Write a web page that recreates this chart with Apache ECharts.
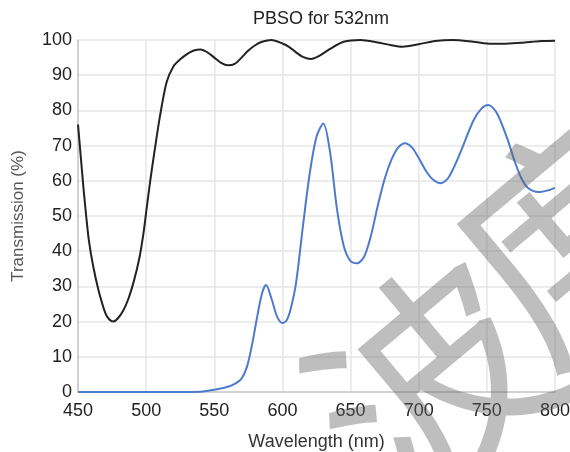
<!DOCTYPE html>
<html>
<head>
<meta charset="UTF-8">
<title>PBSO for 532nm</title>
<script src="https://cdn.jsdelivr.net/npm/echarts@6/dist/echarts.min.js"></script>
<style>
  html, body { margin: 0; padding: 0; background: #fff; }
  #chart { width: 570px; height: 452px; }
</style>
</head>
<body>
<div id="chart"></div>
<script>
// black curve
var blackX = [450, 452, 454, 456, 458, 461, 465, 470, 473, 476, 479, 483, 487, 491, 495, 498, 500, 503, 506, 510, 515, 520, 525, 530, 535, 540, 545, 550, 555, 560, 565, 570, 575, 580, 585, 592, 600, 605, 610, 615, 621, 627, 635, 645, 657, 670, 680, 688, 700, 712, 725, 740, 750, 762, 775, 790, 800];
var blackY = [76, 67, 58, 50, 43, 36, 29, 22.5, 20.6, 20, 20.8, 23, 26.5, 31.5, 38, 45, 51, 60, 68, 78, 88, 92.5, 94.5, 96, 97, 97.3, 96.5, 95, 93.5, 92.8, 93.2, 95, 97, 98.5, 99.5, 100, 99, 98, 96.5, 95.2, 94.6, 95.5, 97.5, 99.5, 100, 99.3, 98.5, 98.1, 98.8, 99.7, 100, 99.5, 99, 98.9, 99.2, 99.7, 99.8];

// blue curve
var blueX = [450, 500, 540, 552, 560, 565, 570, 574, 578, 581, 585, 588, 592, 596, 600, 603, 606, 610, 615, 620, 625, 630, 635, 640, 645, 650, 655, 660, 665, 670, 675, 680, 685, 690, 695, 700, 705, 710, 716, 722, 730, 740, 746, 751, 757, 765, 770, 775, 780, 788, 795, 800];
var blueY = [0, 0, 0.1, 0.8, 1.5, 2.3, 3.8, 7.2, 14, 20.4, 28, 30.4, 26.5, 21.5, 19.6, 20.3, 23.5, 31, 47, 62, 72.5, 76.3, 68, 52, 41.5, 37.2, 36.6, 38.5, 44.5, 53, 60.5, 66, 69.5, 70.7, 69.5, 66.5, 63, 60.5, 59.3, 61, 67.5, 77, 80.5, 81.5, 79.5, 72, 66, 61, 58, 56.8, 57.3, 58];

var xTicks = [450, 500, 550, 600, 650, 700, 750, 800];
var yTicks = [0, 10, 20, 30, 40, 50, 60, 70, 80, 90, 100];

function pairs(xs, ys) {
  var out = [];
  for (var i = 0; i < xs.length; i++) out.push([xs[i], ys[i]]);
  return out;
}

var font = '"Liberation Sans", Arial, sans-serif';
var wmStyle = function (ch) {
  return {
    text: ch, font: '230px "Noto Sans CJK SC"',
    fill: 'rgba(100,100,100,0.42)', textAlign: 'center', textVerticalAlign: 'middle'
  };
};

var myChart = echarts.init(document.getElementById('chart'));
myChart.setOption({
  animation: false,
  title: {
    text: 'PBSO for 532nm',
    left: 316, top: 5, textAlign: 'center',
    textStyle: { fontFamily: font, fontSize: 18, fontWeight: 'normal', color: '#222' }
  },
  grid: { left: 78, right: 15, top: 40, bottom: 60, outerBoundsMode: 'none', containLabel: false },
  xAxis: {
    type: 'value', min: 450, max: 800, interval: 50,
    name: 'Wavelength (nm)', nameLocation: 'middle', nameGap: 41,
    nameTextStyle: { fontFamily: font, fontSize: 18, color: '#333' },
    axisLine: { lineStyle: { color: '#c8c8c8', width: 1.5 } },
    axisTick: { show: false },
    axisLabel: { fontFamily: font, fontSize: 18, color: '#222', margin: 10 },
    splitLine: { show: true, lineStyle: { color: '#e6e6e6', width: 1.5 } }
  },
  yAxis: {
    type: 'value', min: 0, max: 100, interval: 10,
    name: 'Transmission (%)', nameLocation: 'middle', nameGap: 51,
    nameTextStyle: { fontFamily: font, fontSize: 17, color: '#555' },
    axisLine: { show: true, lineStyle: { color: '#c8c8c8', width: 1.5 } },
    axisTick: { show: false },
    axisLabel: { fontFamily: font, fontSize: 18, color: '#222', margin: 6 },
    splitLine: { show: true, lineStyle: { color: '#e6e6e6', width: 1.5 } }
  },
  series: [
    {
      type: 'line', data: pairs(blackX, blackY), smooth: 0.3, showSymbol: false,
      lineStyle: { color: '#222', width: 2 }
    },
    {
      type: 'line', data: pairs(blueX, blueY), smooth: 0.3, showSymbol: false,
      lineStyle: { color: '#4d7bcc', width: 2 }
    }
  ],
  // watermark
  graphic: [
    { type: 'text', z: 100, x: 430, y: 383, rotation: 40 * Math.PI / 180, style: wmStyle('波') },
    { type: 'text', z: 100, x: 576, y: 232, rotation: 40 * Math.PI / 180, style: wmStyle('度') }
  ]
});
</script>
</body>
</html>
